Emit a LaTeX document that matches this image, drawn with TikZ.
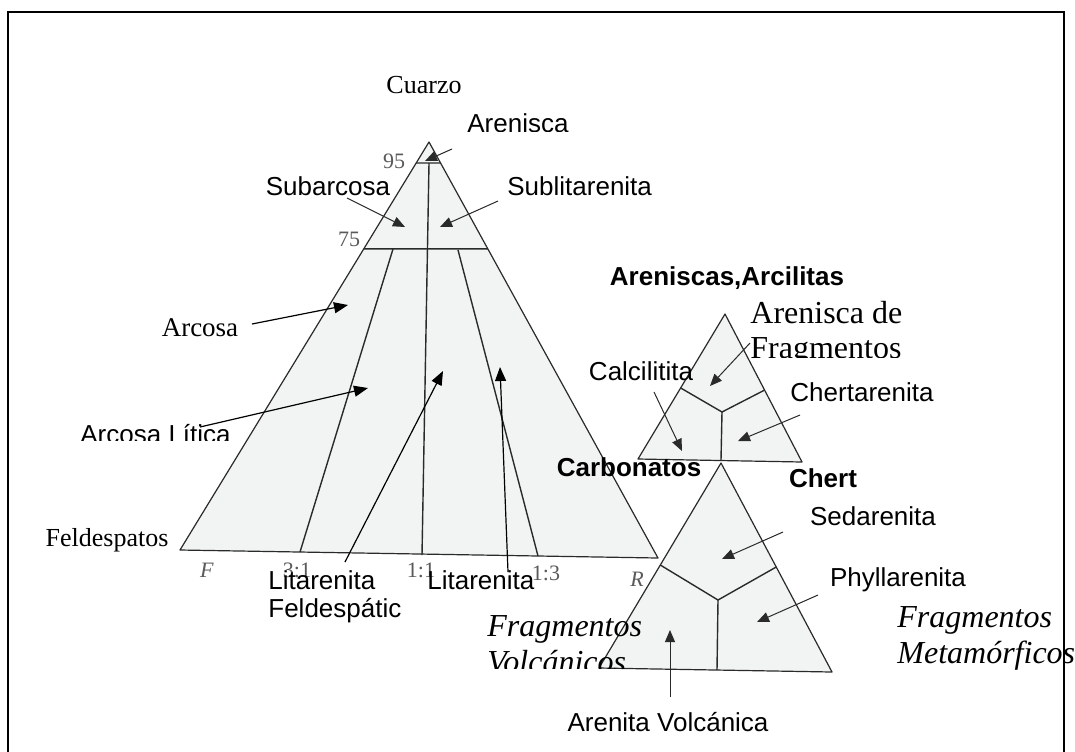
\documentclass[tikz,border=0pt]{standalone}
\usepackage{fontspec}
\setmainfont{Liberation Serif}
\newfontfamily\sansf{Liberation Sans}
\usetikzlibrary{arrows.meta,calc}
\definecolor{scan}{HTML}{F2F4F4}
\definecolor{edgec}{HTML}{2A2A2A}
\definecolor{tickc}{HTML}{5A5A5A}
\begin{document}
\begin{tikzpicture}[x=0.5pt,y=-0.5pt,
  tri/.style={draw=edgec,line width=0.6pt,fill=scan,line join=round},
  divl/.style={draw=edgec,line width=0.7pt},
  arr/.style={-{Triangle[length=7pt,width=5.5pt]},line width=0.6pt,black},
  sarr/.style={-{Triangle[length=6pt,width=5pt]},line width=0.5pt,edgec},
  lab/.style={font=\sansf\fontsize{13}{14}\selectfont,inner sep=0pt},
  blab/.style={font=\sansf\bfseries\fontsize{13}{14}\selectfont,inner sep=0pt},
  slab/.style={font=\fontsize{13}{15}\selectfont,inner sep=0pt},
  ilab/.style={font=\itshape\fontsize{16}{18}\selectfont,inner sep=0pt,align=left},
  tlab/.style={font=\fontsize{11}{13}\selectfont,text=tickc,inner sep=0pt},
]
\useasboundingbox (0,0) rectangle (1075,751);
\fill[white] (0,0) rectangle (1075,751);
% frame
\draw[line width=1pt] (8,780) -- (8,12) -- (1064,12) -- (1064,780);

% ---------- big triangle ----------
\coordinate (Q) at (429,142);
\coordinate (F) at (180,550);
\coordinate (R) at (658,558);
\draw[tri] (Q) -- (F) -- (R) -- cycle;
\coordinate (n95l) at ($(Q)!0.0515!(F)$);
\coordinate (n95r) at ($(Q)!0.0505!(R)$);
\coordinate (n75l) at ($(Q)!0.262!(F)$);
\coordinate (n75r) at ($(Q)!0.257!(R)$);
\draw[divl] (n95l) -- (n95r);
\draw[divl] (n75l) -- (n75r);
\coordinate (c95) at (429,163);
\coordinate (b11) at (422,555);
\coordinate (t31) at (393,249);
\coordinate (b31) at (300,552);
\coordinate (t13) at (458,250);
\coordinate (b13) at (538,556);
\draw[divl] (c95) -- (b11);
\draw[divl] (t31) -- (b31);
\draw[divl] (t13) -- (b13);

% ticks labels
\node[tlab,anchor=base] (l95) at (394,168) {95};
\node[tlab,anchor=base] (l75) at (349,246) {75};
\node[tlab,anchor=base] (lF) at (207,577) {\textit{F}};
\node[tlab,anchor=base] (l31) at (297,577) {3:1};
\node[tlab,anchor=base] (l11) at (421,577) {1:1};
\node[tlab,anchor=base] (l13) at (546,580) {1:3};
\node[tlab,anchor=base] (lR) at (637,586) {\textit{R}};

% labels
\node[slab,anchor=base] (cuarzo) at (424,93) {Cuarzo};
\node[slab,anchor=base] (feld) at (107,546) {Feldespatos};
\begin{scope}
\clip (440,100) rectangle (640,131);
\node[lab,anchor=base west] (aren) at (467,132.5) {Arenisca};
\end{scope}
\node[lab,anchor=base] (subarc) at (328,195) {Subarcosa};
\node[lab,anchor=base west] (sublit) at (507,195) {Sublitarenita};
\node[slab,anchor=base,font=\fontsize{13.5}{15}\selectfont] (arcosa) at (200,336) {Arcosa};
\begin{scope}
\clip (60,400) rectangle (260,440.5);
\node[lab,anchor=base west] (arcl) at (80,443.5) {Arcosa Lítica};
\end{scope}
\node[lab,anchor=base west,align=left] (litf) at (268,617) {Litarenita\\Feldespátic};
\node[lab,anchor=base west] (lit) at (427,589) {Litarenita};

% arrows big triangle
\coordinate (aA1) at (452,149); \coordinate (aA2) at (425,161);
\draw[sarr] (aA1) -- (aA2);
\coordinate (aS1) at (347,198); \coordinate (aS2) at (405,227);
\draw[sarr] (aS1) -- (aS2);
\coordinate (aL1) at (498,201); \coordinate (aL2) at (440,227);
\draw[sarr] (aL1) -- (aL2);
\coordinate (aR1) at (252,324); \coordinate (aR2) at (348,305);
\draw[arr] (aR1) -- (aR2);
\coordinate (aRL1) at (200,427); \coordinate (aRL2) at (368,388);
\draw[arr] (aRL1) -- (aRL2);
\coordinate (aLF1) at (345,562); \coordinate (aLF2) at (443,371);
\draw[arr] (aLF1) -- (aLF2);
\coordinate (aLi1) at (508,572); \coordinate (aLi2) at (500,367);
\draw[arr] (aLi1) -- (aLi2);

% ---------- small upper triangle ----------
\coordinate (A) at (725,314);
\coordinate (C) at (638,459);
\coordinate (H) at (802,462);
\draw[tri] (A) -- (C) -- (H) -- cycle;
\coordinate (Yc) at (722,412);
\coordinate (Yl) at ($(A)!0.51!(C)$);
\coordinate (Yr) at ($(A)!0.514!(H)$);
\coordinate (Yd) at (721,460);
\draw[divl] (Yl) -- (Yc) -- (Yr);
\draw[divl] (Yc) -- (Yd);

\node[blab,anchor=base] (arcil) at (727,285) {Areniscas,Arcilitas};
\begin{scope}
\clip (740,290) rectangle (1000,357);
\node[anchor=base west,inner sep=0pt,align=left,font=\fontsize{16}{17.5}\selectfont] (afrag) at (750,358) {Arenisca de\\Fragmentos};
\end{scope}
\node[lab,anchor=base] (calc) at (641,380) {Calcilitita};
\node[lab,anchor=base] (chertar) at (862,401.5) {Chertarenita};
\node[blab,anchor=base] (carb) at (629,476.5) {Carbonatos};
\node[blab,anchor=base] (chert) at (823,487) {Chert};

\coordinate (aF1) at (750,343); \coordinate (aF2) at (710,386);
\draw[sarr] (aF1) -- (aF2);
\coordinate (aC1) at (654,392); \coordinate (aC2) at (682,451);
\draw[sarr] (aC1) -- (aC2);
\coordinate (aCh1) at (800,415); \coordinate (aCh2) at (738,441);
\draw[sarr] (aCh1) -- (aCh2);

% ---------- lower triangle ----------
\coordinate (B) at (721,463);
\coordinate (V) at (599,668);
\coordinate (M) at (832,672);
\draw[tri] (B) -- (V) -- (M) -- cycle;
\coordinate (Zc) at (718,600);
\coordinate (Zl) at ($(B)!0.4976!(V)$);
\coordinate (Zr) at ($(B)!0.4976!(M)$);
\coordinate (Zd) at (717,670);
\draw[divl] (Zl) -- (Zc) -- (Zr);
\draw[divl] (Zc) -- (Zd);

\node[lab,anchor=base] (sed) at (873,525) {Sedarenita};
\node[lab,anchor=base] (phyl) at (898,586) {Phyllarenita};
\node[ilab,anchor=base west] (fmet) at (897,663) {Fragmentos\\Metamórficos};
\begin{scope}
\clip (470,600) rectangle (640,668);
\node[ilab,anchor=base west] (fvol) at (487,672) {Fragmentos\\Volcánicos};
\end{scope}
\node[lab,anchor=base] (avol) at (668,731) {Arenita Volcánica};

\coordinate (aSe1) at (783,532); \coordinate (aSe2) at (722,559);
\draw[sarr] (aSe1) -- (aSe2);
\coordinate (aP1) at (818,595); \coordinate (aP2) at (757,622);
\draw[sarr] (aP1) -- (aP2);
\coordinate (aV1) at (670,697); \coordinate (aV2) at (670,630);
\draw[sarr] (aV1) -- (aV2);
\end{tikzpicture}
\end{document}
